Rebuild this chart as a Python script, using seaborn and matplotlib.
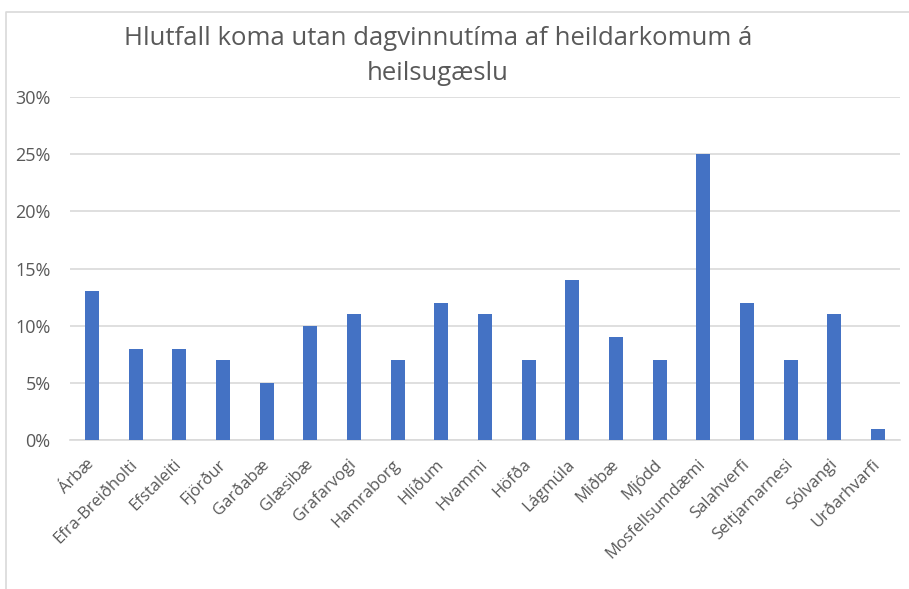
import matplotlib
matplotlib.use("Agg")
import matplotlib.pyplot as plt
from matplotlib.lines import Line2D
from matplotlib.ticker import PercentFormatter
import seaborn as sns
import pandas as pd

categories = ["Árbæ", "Efra-Breiðholti", "Efstaleiti", "Fjörður", "Garðabæ", "Glæsibæ",
              "Grafarvogi", "Hamraborg", "Hlíðum", "Hvammi", "Höfða", "Lágmúla", "Miðbæ",
              "Mjódd", "Mosfellsumdæmi", "Salahverfi", "Seltjarnarnesi", "Sólvangi", "Urðarhvarfi"]
values = [0.13, 0.08, 0.08, 0.07, 0.05, 0.10, 0.11, 0.07, 0.12, 0.11, 0.07, 0.14, 0.09,
          0.07, 0.25, 0.12, 0.07, 0.11, 0.01]
yticks = [0, 0.05, 0.10, 0.15, 0.20, 0.25, 0.30]
title = "Hlutfall koma utan dagvinnutíma af heildarkomum á\nheilsugæslu"

df = pd.DataFrame({"cat": categories, "val": values})

sns.set_theme(style="white")
plt.rcParams["font.family"] = ["Open Sans", "DejaVu Sans"]

W, H = 909, 589
fig = plt.figure(figsize=(W / 100, H / 100), dpi=100)
ax = fig.add_axes([70 / W, 1 - 440 / H, (900 - 70) / W, (440 - 97) / H])

sns.barplot(data=df, x="cat", y="val", color="#4472C4", width=0.32, ax=ax,
            saturation=1, edgecolor="none", zorder=3)

ax.set_ylim(0, 0.30)
ax.set_xlim(-0.5, len(categories) - 0.5)
ax.set_yticks(yticks)
ax.yaxis.set_major_formatter(PercentFormatter(1.0, decimals=0))
ax.grid(axis="y", color="#D9D9D9", linewidth=1.2, zorder=0)
ax.grid(axis="x", visible=False)
for s in ["top", "right", "left"]:
    ax.spines[s].set_visible(False)
ax.spines["bottom"].set_color("#D9D9D9")
ax.spines["bottom"].set_linewidth(1.2)
ax.set_xlabel("")
ax.set_ylabel("")
ax.tick_params(axis="y", length=0, labelsize=13, labelcolor="#595959", pad=14)
ax.tick_params(axis="x", length=0, labelsize=12, labelcolor="#595959", pad=16)
plt.setp(ax.get_xticklabels(), rotation=45, ha="right", va="center", rotation_mode="anchor")

fig.text(438 / W, 1 - 56 / H, title, ha="center", va="center", fontsize=18.5,
         color="#595959", linespacing=1.55)

# outer chart frame (light grey, left and top edges visible)
fig.add_artist(Line2D([6 / W, 6 / W, 1.0], [0.0, 1 - 12 / H, 1 - 12 / H],
                      transform=fig.transFigure, color="#D9D9D9", linewidth=1.2))

fig.savefig("out.png", dpi=100, facecolor="white")
